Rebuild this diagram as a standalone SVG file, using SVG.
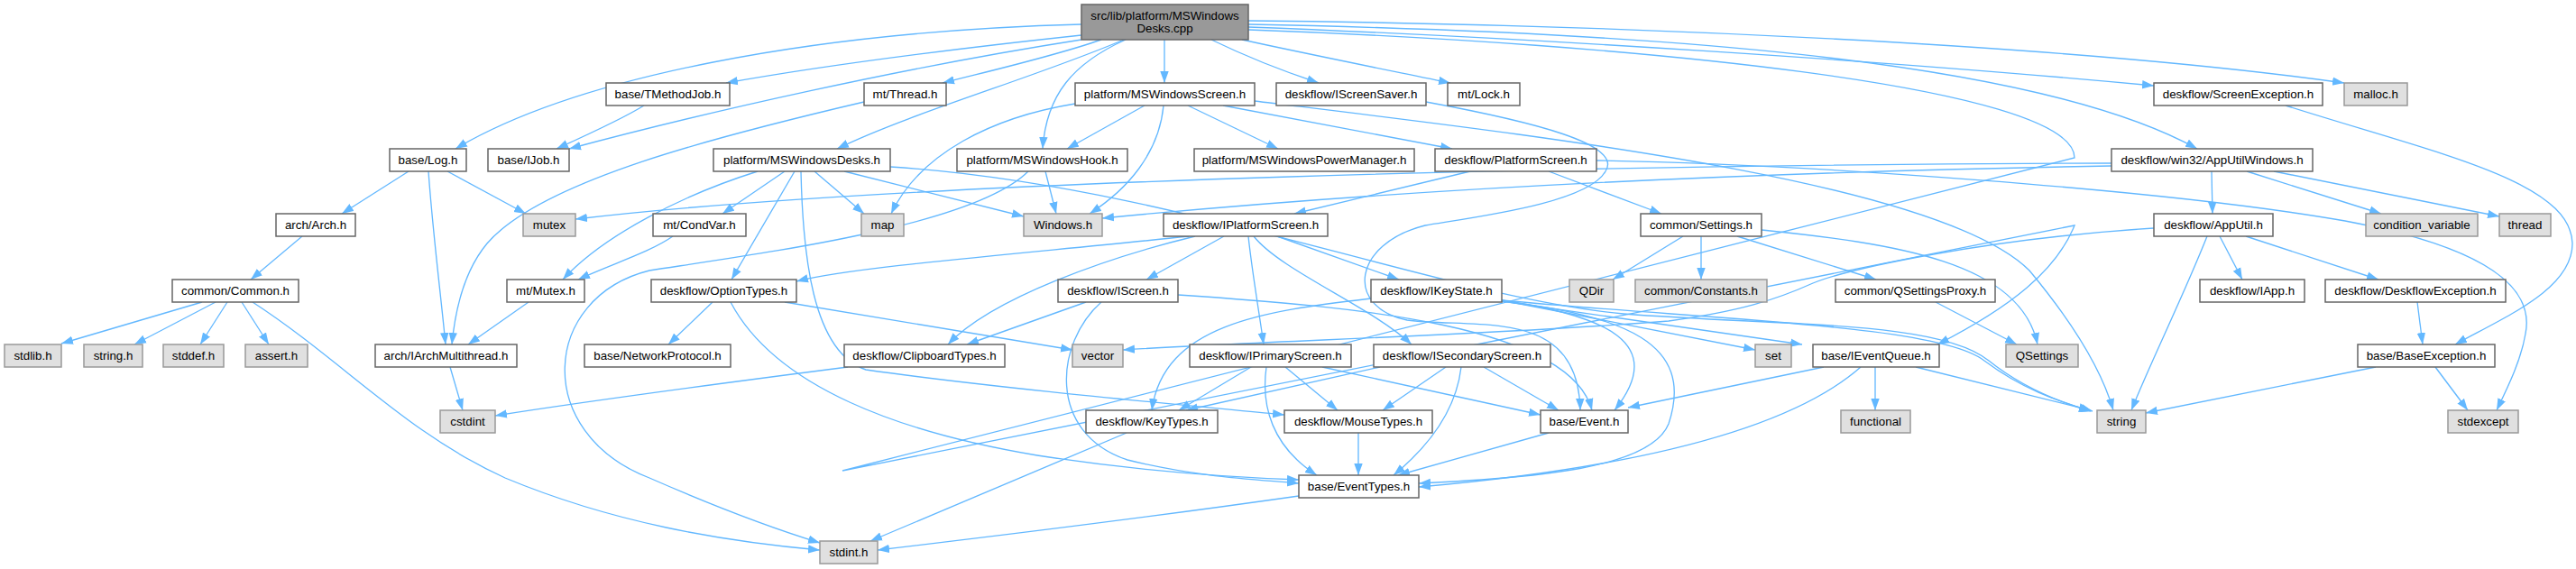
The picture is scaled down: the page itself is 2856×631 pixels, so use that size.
<svg xmlns="http://www.w3.org/2000/svg" width="2856" height="631" viewBox="0 0 2856 631">
<defs>
<marker id="a" markerWidth="14" markerHeight="11" refX="13" refY="5" orient="auto" markerUnits="userSpaceOnUse"><path d="M0,0.3 L13,5 L0,9.7 z" fill="#63b8ff"/></marker>
<style>
.e path{fill:none;stroke:#63b8ff;stroke-width:1.33;marker-end:url(#a)}
.w rect{fill:#ffffff;stroke:#666666;stroke-width:1.5}
.g rect{fill:#e0e0e0;stroke:#999999;stroke-width:1.5}
.r rect{fill:#999999;stroke:#666666;stroke-width:1.5}
text{font-family:"Liberation Sans",Arial,Helvetica,sans-serif;font-size:13.33px;fill:#000;text-anchor:middle}
</style>
</defs>
<rect width="2856" height="631" fill="#ffffff"/>
<g id="edges" class="e">
<path d="M1199,27 C900,35 640,85 505,165"/>
<path d="M1199,39 C1050,55 900,75 805,92"/>
<path d="M1199,44 C1000,75 780,125 631,165"/>
<path d="M1221,44 C1170,62 1100,78 1045,92"/>
<path d="M1246,44 C1150,85 1010,125 928,165"/>
<path d="M1248,44 C1190,70 1160,105 1156,165"/>
<path d="M1291,44 L1291,92"/>
<path d="M1343,44 C1380,62 1420,78 1462,92"/>
<path d="M1377,44 C1450,60 1540,78 1608,92"/>
<path d="M1384,30 C1700,42 2100,68 2388,95"/>
<path d="M1384,23 C1800,27 2300,50 2599,92"/>
<path d="M1384,27 C1800,35 2250,62 2436,165"/>
<path d="M1384,33 C1800,48 2300,95 2300,175 L934,522 L2300,250 C2280,300 2230,340 2148,382"/>
<path d="M714,117 C690,132 650,150 617,165"/>
<path d="M958,113 C800,150 600,200 540,270 C515,300 505,340 501,382"/>
<path d="M453,190 L379,237"/>
<path d="M496,190 L583,237"/>
<path d="M475,190 C480,260 488,320 494,382"/>
<path d="M335,262 L278,310"/>
<path d="M224,335 L68,381"/>
<path d="M239,335 L149,382"/>
<path d="M252,335 L222,382"/>
<path d="M268,335 L298,382"/>
<path d="M280,335 C380,400 450,480 560,530 C680,580 800,600 909,610"/>
<path d="M586,335 L519,382"/>
<path d="M499,407 L513,455"/>
<path d="M746,262 C720,280 680,292 641,310"/>
<path d="M840,190 C760,215 670,260 624,310"/>
<path d="M870,190 L801,237"/>
<path d="M881,190 L811,310"/>
<path d="M888,190 C890,280 900,390 960,410 C1100,430 1300,448 1424,460"/>
<path d="M903,190 L958,237"/>
<path d="M936,190 L1135,240"/>
<path d="M987,185 C1300,205 1600,330 1800,348 C1980,362 2150,355 2205,400 C2240,428 2280,445 2318,456"/>
<path d="M1159,190 L1171,237"/>
<path d="M1140,190 C1080,250 850,280 720,300 C600,330 590,480 720,530 C800,565 870,590 909,602"/>
<path d="M1192,115 C1100,130 1020,170 988,237"/>
<path d="M1269,117 L1183,165"/>
<path d="M1290,117 C1285,170 1250,210 1208,237"/>
<path d="M1317,117 L1417,165"/>
<path d="M1356,117 L1610,165"/>
<path d="M1391,112 C1700,150 2150,200 2250,300 C2300,360 2330,410 2343,455"/>
<path d="M1581,113 C1700,135 1800,160 1780,190 C1760,225 1640,240 1580,250 C1500,270 1490,340 1560,355 C1640,365 1750,340 1752,455"/>
<path d="M1630,190 L1435,237"/>
<path d="M1717,190 L1842,237"/>
<path d="M1770,178 C2000,182 2400,210 2600,245 C2760,275 2810,320 2800,370 C2795,400 2780,430 2768,455"/>
<path d="M2341,181 C1800,182 1000,200 638,243"/>
<path d="M2341,184 C2000,190 1600,205 1222,242"/>
<path d="M2452,190 L2453,237"/>
<path d="M2491,190 L2640,237"/>
<path d="M2521,190 L2771,240"/>
<path d="M1318,262 C1150,280 950,295 883,312"/>
<path d="M1325,262 C1230,285 1100,330 1051,382"/>
<path d="M1357,262 L1271,310"/>
<path d="M1384,262 C1388,300 1395,340 1401,382"/>
<path d="M1390,262 C1420,300 1520,340 1565,382"/>
<path d="M1416,262 L1551,310"/>
<path d="M1204,335 L1072,382"/>
<path d="M1221,335 C1170,380 1160,480 1250,510 C1330,530 1400,532 1440,536"/>
<path d="M1306,327 C1500,340 1740,360 1765,455"/>
<path d="M1520,331 C1400,345 1290,360 1277,455"/>
<path d="M1665,333 L1946,388"/>
<path d="M1665,334 L1998,382"/>
<path d="M1665,333 C1780,350 1850,380 1790,455"/>
<path d="M1665,334 C1800,350 1880,380 1850,470 C1830,520 1700,530 1573,536"/>
<path d="M1665,333 C1900,355 2150,360 2200,400 C2240,430 2280,445 2320,456"/>
<path d="M1530,407 C1450,425 1380,440 1315,455"/>
<path d="M1603,407 L1533,455"/>
<path d="M1645,407 L1728,455"/>
<path d="M1620,407 C1615,450 1590,490 1545,527"/>
<path d="M1387,407 L1307,455"/>
<path d="M1425,407 L1483,455"/>
<path d="M1466,407 L1708,460"/>
<path d="M1404,407 C1398,450 1410,495 1460,527"/>
<path d="M1506,480 L1506,527"/>
<path d="M1717,480 L1550,527"/>
<path d="M2022,407 L1805,452"/>
<path d="M2063,407 C1980,480 1800,520 1573,540"/>
<path d="M2079,407 L2079,455"/>
<path d="M2124,407 L2318,455"/>
<path d="M1440,550 C1300,570 1100,595 973,610"/>
<path d="M1249,480 L965,600"/>
<path d="M790,335 L741,382"/>
<path d="M870,335 L1189,388"/>
<path d="M810,335 C860,430 1000,480 1150,505 C1280,525 1380,530 1440,532"/>
<path d="M940,407 C800,425 650,445 549,461"/>
<path d="M2388,253 C2200,265 2050,298 2010,314 C1970,332 1930,345 1850,356 C1650,372 1400,378 1245,388"/>
<path d="M2461,262 L2486,310"/>
<path d="M2490,262 L2637,310"/>
<path d="M2447,262 C2420,330 2385,400 2363,455"/>
<path d="M2534,117 C2700,170 2850,200 2852,270 C2852,320 2780,350 2722,382"/>
<path d="M2680,335 L2686,382"/>
<path d="M2634,407 L2379,458"/>
<path d="M2700,407 L2736,455"/>
<path d="M1866,262 L1788,310"/>
<path d="M1886,262 L1886,310"/>
<path d="M1926,262 L2080,310"/>
<path d="M1953,255 C2100,270 2240,290 2259,382"/>
<path d="M2146,335 L2236,382"/>
</g>
<g id="n0" class="r"><rect x="1199" y="5" width="185" height="39"/><text x="1291.5" y="21.5">src/lib/platform/MSWindows</text><text x="1291.5" y="36">Desks.cpp</text></g>
<g id="tmj" class="w"><rect x="672" y="92" width="137" height="25"/><text x="740.5" y="109">base/TMethodJob.h</text></g>
<g id="thr" class="w"><rect x="958" y="92" width="91" height="25"/><text x="1003.5" y="109">mt/Thread.h</text></g>
<g id="mss" class="w"><rect x="1192" y="92" width="199" height="25"/><text x="1291.5" y="109">platform/MSWindowsScreen.h</text></g>
<g id="iss" class="w"><rect x="1415" y="92" width="166" height="25"/><text x="1498" y="109">deskflow/IScreenSaver.h</text></g>
<g id="lck" class="w"><rect x="1605" y="92" width="80" height="25"/><text x="1645" y="109">mt/Lock.h</text></g>
<g id="sce" class="w"><rect x="2388" y="92" width="187" height="25"/><text x="2481.5" y="109">deskflow/ScreenException.h</text></g>
<g id="mal" class="g"><rect x="2599" y="92" width="70" height="25"/><text x="2634" y="109">malloc.h</text></g>
<g id="log" class="w"><rect x="432" y="165" width="85" height="25"/><text x="474.5" y="182">base/Log.h</text></g>
<g id="ijb" class="w"><rect x="541" y="165" width="90" height="25"/><text x="586" y="182">base/IJob.h</text></g>
<g id="msd" class="w"><rect x="791" y="165" width="196" height="25"/><text x="889" y="182">platform/MSWindowsDesks.h</text></g>
<g id="msh" class="w"><rect x="1061" y="165" width="189" height="25"/><text x="1155.5" y="182">platform/MSWindowsHook.h</text></g>
<g id="pwm" class="w"><rect x="1324" y="165" width="244" height="25"/><text x="1446" y="182">platform/MSWindowsPowerManager.h</text></g>
<g id="psc" class="w"><rect x="1591" y="165" width="179" height="25"/><text x="1680.5" y="182">deskflow/PlatformScreen.h</text></g>
<g id="auw" class="w"><rect x="2341" y="165" width="223" height="25"/><text x="2452.5" y="182">deskflow/win32/AppUtilWindows.h</text></g>
<g id="arc" class="w"><rect x="306" y="237" width="88" height="25"/><text x="350" y="254">arch/Arch.h</text></g>
<g id="mtx" class="g"><rect x="580" y="237" width="58" height="25"/><text x="609" y="254">mutex</text></g>
<g id="cnd" class="w"><rect x="724" y="237" width="103" height="25"/><text x="775.5" y="254">mt/CondVar.h</text></g>
<g id="map" class="g"><rect x="955" y="237" width="47" height="25"/><text x="978.5" y="254">map</text></g>
<g id="win" class="g"><rect x="1135" y="237" width="87" height="25"/><text x="1178.5" y="254">Windows.h</text></g>
<g id="ips" class="w"><rect x="1290" y="237" width="182" height="25"/><text x="1381" y="254">deskflow/IPlatformScreen.h</text></g>
<g id="stg" class="w"><rect x="1819" y="237" width="134" height="25"/><text x="1886" y="254">common/Settings.h</text></g>
<g id="aut" class="w"><rect x="2388" y="237" width="132" height="25"/><text x="2454" y="254">deskflow/AppUtil.h</text></g>
<g id="cvr" class="g"><rect x="2623" y="237" width="124" height="25"/><text x="2685" y="254">condition_variable</text></g>
<g id="thd" class="g"><rect x="2771" y="237" width="57" height="25"/><text x="2799.5" y="254">thread</text></g>
<g id="cmn" class="w"><rect x="191" y="310" width="140" height="25"/><text x="261" y="327">common/Common.h</text></g>
<g id="mux" class="w"><rect x="562" y="310" width="86" height="25"/><text x="605" y="327">mt/Mutex.h</text></g>
<g id="opt" class="w"><rect x="722" y="310" width="161" height="25"/><text x="802.5" y="327">deskflow/OptionTypes.h</text></g>
<g id="isc" class="w"><rect x="1173" y="310" width="133" height="25"/><text x="1239.5" y="327">deskflow/IScreen.h</text></g>
<g id="iks" class="w"><rect x="1520" y="310" width="145" height="25"/><text x="1592.5" y="327">deskflow/IKeyState.h</text></g>
<g id="qdr" class="g"><rect x="1740" y="310" width="49" height="25"/><text x="1764.5" y="327">QDir</text></g>
<g id="cst" class="g"><rect x="1813" y="310" width="146" height="25"/><text x="1886" y="327">common/Constants.h</text></g>
<g id="qsp" class="w"><rect x="2035" y="310" width="177" height="25"/><text x="2123.5" y="327">common/QSettingsProxy.h</text></g>
<g id="iap" class="w"><rect x="2439" y="310" width="116" height="25"/><text x="2497" y="327">deskflow/IApp.h</text></g>
<g id="dfe" class="w"><rect x="2578" y="310" width="200" height="25"/><text x="2678" y="327">deskflow/DeskflowException.h</text></g>
<g id="stl" class="g"><rect x="5" y="382" width="63" height="25"/><text x="36.5" y="399">stdlib.h</text></g>
<g id="sth" class="g"><rect x="93" y="382" width="65" height="25"/><text x="125.5" y="399">string.h</text></g>
<g id="sdd" class="g"><rect x="181" y="382" width="67" height="25"/><text x="214.5" y="399">stddef.h</text></g>
<g id="ast" class="g"><rect x="272" y="382" width="69" height="25"/><text x="306.5" y="399">assert.h</text></g>
<g id="iam" class="w"><rect x="416" y="382" width="157" height="25"/><text x="494.5" y="399">arch/IArchMultithread.h</text></g>
<g id="npr" class="w"><rect x="648" y="382" width="162" height="25"/><text x="729" y="399">base/NetworkProtocol.h</text></g>
<g id="clp" class="w"><rect x="936" y="382" width="178" height="25"/><text x="1025" y="399">deskflow/ClipboardTypes.h</text></g>
<g id="vec" class="g"><rect x="1189" y="382" width="56" height="25"/><text x="1217" y="399">vector</text></g>
<g id="ipr" class="w"><rect x="1319" y="382" width="179" height="25"/><text x="1408.5" y="399">deskflow/IPrimaryScreen.h</text></g>
<g id="isd" class="w"><rect x="1523" y="382" width="196" height="25"/><text x="1621" y="399">deskflow/ISecondaryScreen.h</text></g>
<g id="sst" class="g"><rect x="1946" y="382" width="40" height="25"/><text x="1966" y="399">set</text></g>
<g id="ieq" class="w"><rect x="2010" y="382" width="140" height="25"/><text x="2080" y="399">base/IEventQueue.h</text></g>
<g id="qst" class="g"><rect x="2224" y="382" width="80" height="25"/><text x="2264" y="399">QSettings</text></g>
<g id="bex" class="w"><rect x="2614" y="382" width="152" height="25"/><text x="2690" y="399">base/BaseException.h</text></g>
<g id="cdi" class="g"><rect x="488" y="455" width="61" height="25"/><text x="518.5" y="472">cstdint</text></g>
<g id="kty" class="w"><rect x="1204" y="455" width="146" height="25"/><text x="1277" y="472">deskflow/KeyTypes.h</text></g>
<g id="mty" class="w"><rect x="1424" y="455" width="164" height="25"/><text x="1506" y="472">deskflow/MouseTypes.h</text></g>
<g id="evt" class="w"><rect x="1708" y="455" width="97" height="25"/><text x="1756.5" y="472">base/Event.h</text></g>
<g id="fnc" class="g"><rect x="2041" y="455" width="77" height="25"/><text x="2079.5" y="472">functional</text></g>
<g id="str" class="g"><rect x="2325" y="455" width="54" height="25"/><text x="2352" y="472">string</text></g>
<g id="sex" class="g"><rect x="2714" y="455" width="78" height="25"/><text x="2753" y="472">stdexcept</text></g>
<g id="ety" class="w"><rect x="1440" y="527" width="133" height="25"/><text x="1506.5" y="544">base/EventTypes.h</text></g>
<g id="sdi" class="g"><rect x="909" y="600" width="64" height="25"/><text x="941" y="617">stdint.h</text></g>
</svg>
